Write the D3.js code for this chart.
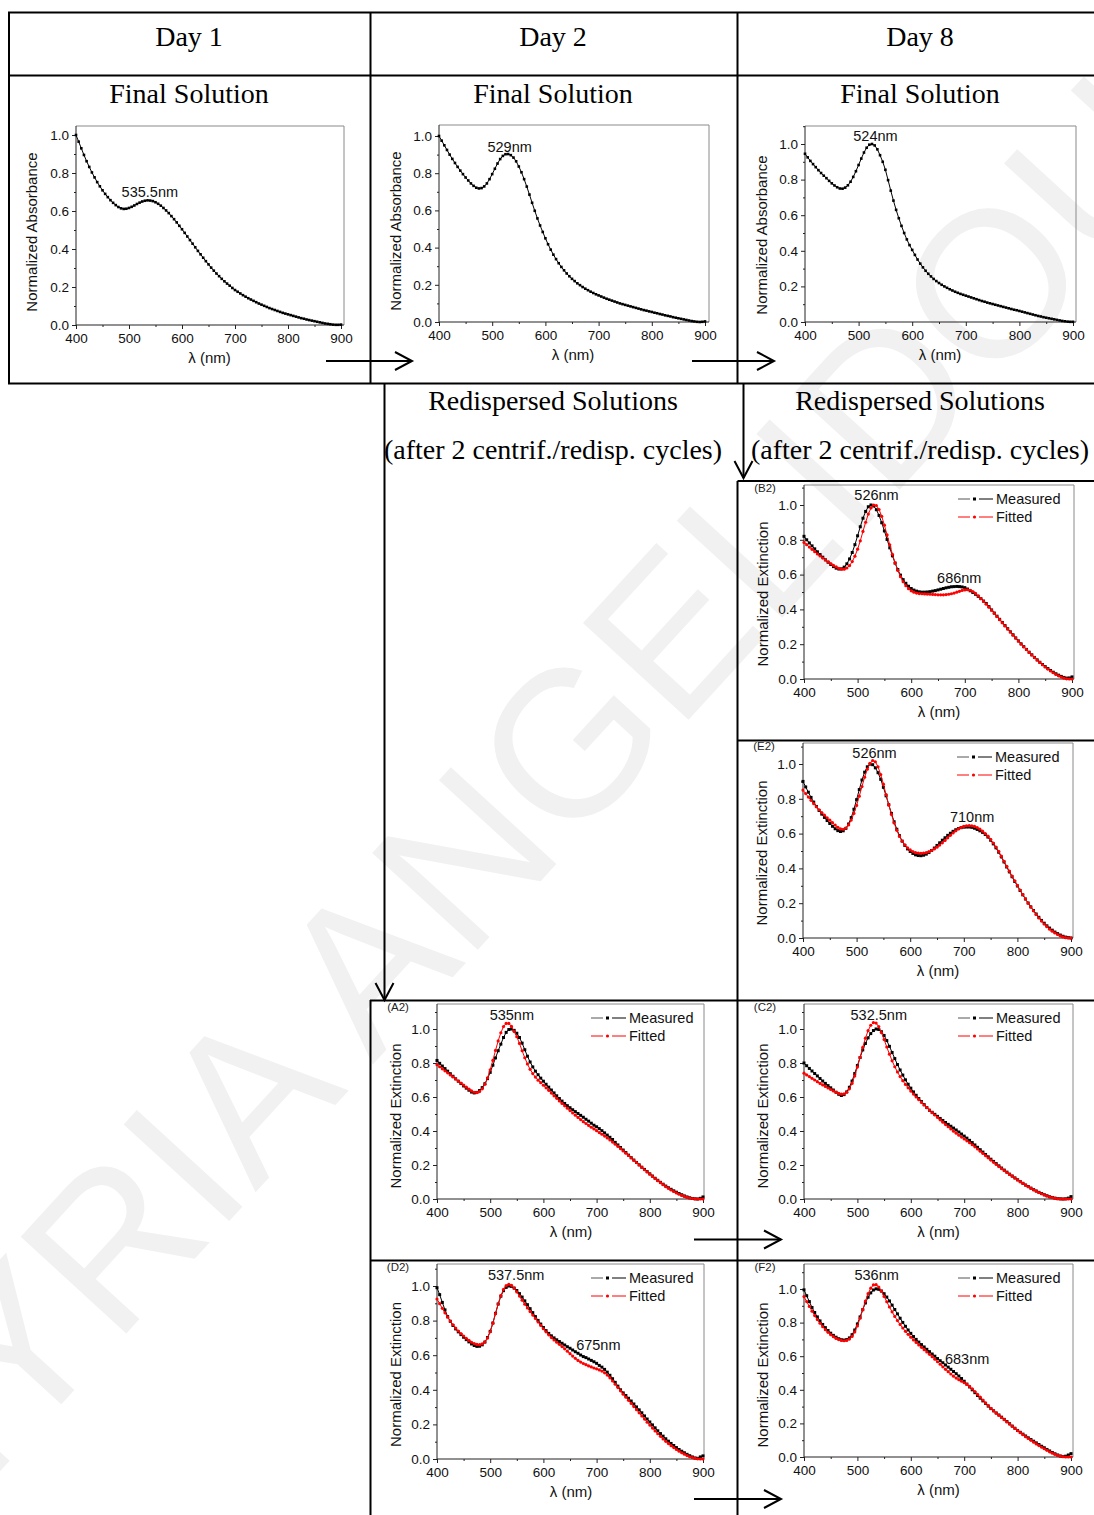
<!DOCTYPE html>
<html>
<head>
<meta charset="utf-8">
<script src="https://cdn.jsdelivr.net/npm/d3@7/dist/d3.min.js"></script>
<style>
  body { margin: 0; background: #fff; }
  svg { display: block; }
</style>
</head>
<body>
<svg id="fig" width="1094" height="1515"></svg>
<script>
// ---------- data: UV-vis spectra, normalised, sampled every 5 nm ----------
const wavelength = [
  400,405,410,415,420,425,430,435,440,445,450,455,460,465,470,475,480,485,490,495,
  500,505,510,515,520,525,530,535,540,545,550,555,560,565,570,575,580,585,590,595,
  600,605,610,615,620,625,630,635,640,645,650,655,660,665,670,675,680,685,690,695,
  700,705,710,715,720,725,730,735,740,745,750,755,760,765,770,775,780,785,790,795,
  800,805,810,815,820,825,830,835,840,845,850,855,860,865,870,875,880,885,890,895,900
];

const xTickValues = [400, 500, 600, 700, 800, 900];
const xMinorValues = [450, 550, 650, 750, 850];
const yTickValues = [0, 0.2, 0.4, 0.6, 0.8, 1.0];
const yMinorValues = [0.1, 0.3, 0.5, 0.7, 0.9, 1.1];

const day1Absorbance = [
  1.000,0.965,0.930,0.895,0.862,0.832,0.803,0.777,0.752,0.730,
  0.709,0.690,0.673,0.657,0.643,0.631,0.621,0.614,0.611,0.612,
  0.616,0.622,0.629,0.637,0.644,0.650,0.654,0.656,0.655,0.652,
  0.646,0.638,0.628,0.616,0.603,0.589,0.573,0.557,0.540,0.522,
  0.504,0.485,0.466,0.447,0.428,0.409,0.390,0.372,0.354,0.336,
  0.319,0.302,0.286,0.271,0.257,0.243,0.230,0.218,0.207,0.195,
  0.184,0.175,0.166,0.157,0.149,0.141,0.134,0.127,0.120,0.113,
  0.107,0.101,0.095,0.089,0.084,0.079,0.074,0.069,0.064,0.060,
  0.056,0.052,0.048,0.044,0.040,0.036,0.033,0.029,0.026,0.023,
  0.020,0.017,0.014,0.011,0.008,0.006,0.004,0.002,0.001,0.001,
  0.002
];

const day2Absorbance = [
  1.000,0.975,0.950,0.925,0.900,0.877,0.855,0.834,0.814,0.795,
  0.777,0.761,0.745,0.732,0.722,0.718,0.720,0.729,0.745,0.768,
  0.795,0.824,0.852,0.876,0.893,0.902,0.903,0.897,0.884,0.864,
  0.836,0.805,0.768,0.728,0.685,0.641,0.598,0.557,0.519,0.484,
  0.450,0.418,0.389,0.362,0.338,0.316,0.296,0.278,0.261,0.246,
  0.232,0.220,0.208,0.198,0.188,0.179,0.171,0.163,0.156,0.149,
  0.143,0.137,0.131,0.125,0.120,0.115,0.110,0.105,0.100,0.096,
  0.092,0.088,0.084,0.080,0.076,0.072,0.068,0.064,0.061,0.057,
  0.054,0.050,0.047,0.043,0.040,0.036,0.033,0.030,0.026,0.023,
  0.020,0.017,0.014,0.011,0.008,0.005,0.003,0.001,0.000,0.001,
  0.003
];

const day8Absorbance = [
  0.945,0.925,0.905,0.887,0.870,0.853,0.837,0.822,0.808,0.793,
  0.779,0.767,0.757,0.750,0.749,0.755,0.768,0.788,0.815,0.847,
  0.882,0.918,0.952,0.979,0.996,1.000,0.992,0.970,0.937,0.900,
  0.855,0.797,0.738,0.682,0.630,0.583,0.540,0.500,0.464,0.432,
  0.405,0.377,0.351,0.328,0.307,0.288,0.271,0.256,0.242,0.230,
  0.219,0.209,0.200,0.192,0.184,0.177,0.170,0.164,0.158,0.153,
  0.148,0.143,0.138,0.133,0.128,0.123,0.118,0.114,0.109,0.105,
  0.101,0.097,0.093,0.089,0.085,0.081,0.077,0.073,0.069,0.066,
  0.062,0.058,0.054,0.050,0.046,0.042,0.038,0.034,0.031,0.027,
  0.024,0.021,0.018,0.015,0.012,0.009,0.006,0.004,0.002,0.001,
  0.001
];

const b2Measured = [
  0.820,0.800,0.782,0.765,0.748,0.731,0.715,0.700,0.685,0.671,
  0.658,0.646,0.637,0.632,0.633,0.643,0.662,0.690,0.727,0.772,
  0.823,0.875,0.924,0.963,0.990,1.000,0.994,0.973,0.940,0.898,
  0.851,0.802,0.754,0.708,0.666,0.629,0.597,0.571,0.550,0.533,
  0.520,0.511,0.505,0.501,0.499,0.499,0.500,0.502,0.505,0.508,
  0.512,0.516,0.520,0.524,0.527,0.530,0.531,0.532,0.531,0.529,
  0.525,0.517,0.507,0.497,0.487,0.475,0.462,0.448,0.434,0.416,
  0.397,0.379,0.361,0.343,0.325,0.307,0.289,0.271,0.254,0.236,
  0.219,0.202,0.186,0.170,0.154,0.139,0.124,0.110,0.096,0.083,
  0.071,0.060,0.049,0.039,0.030,0.022,0.015,0.009,0.005,0.006,
  0.012
];
const b2Fitted = [
  0.785,0.772,0.758,0.745,0.732,0.719,0.707,0.695,0.684,0.673,
  0.663,0.653,0.644,0.636,0.631,0.631,0.638,0.652,0.675,0.706,
  0.746,0.794,0.848,0.901,0.948,0.983,1.000,0.997,0.974,0.935,
  0.884,0.828,0.771,0.717,0.667,0.624,0.588,0.559,0.536,0.519,
  0.507,0.499,0.494,0.491,0.490,0.489,0.488,0.487,0.486,0.485,
  0.484,0.484,0.484,0.485,0.487,0.490,0.494,0.499,0.504,0.509,
  0.512,0.513,0.510,0.503,0.492,0.478,0.462,0.446,0.430,0.413,
  0.395,0.377,0.359,0.341,0.323,0.305,0.287,0.270,0.252,0.235,
  0.218,0.201,0.185,0.169,0.153,0.138,0.123,0.109,0.095,0.082,
  0.069,0.057,0.046,0.036,0.026,0.018,0.011,0.005,0.001,0.000,
  0.000
];

const e2Measured = [
  0.900,0.868,0.838,0.808,0.781,0.756,0.733,0.712,0.693,0.675,
  0.658,0.642,0.628,0.617,0.612,0.616,0.630,0.655,0.692,0.740,
  0.795,0.853,0.908,0.953,0.984,0.999,0.996,0.978,0.950,0.912,
  0.866,0.817,0.766,0.716,0.668,0.625,0.588,0.557,0.532,0.512,
  0.497,0.486,0.478,0.474,0.473,0.476,0.482,0.491,0.503,0.517,
  0.532,0.547,0.562,0.576,0.590,0.602,0.613,0.622,0.629,0.634,
  0.637,0.638,0.638,0.636,0.631,0.624,0.616,0.607,0.595,0.580,
  0.562,0.541,0.518,0.493,0.466,0.437,0.408,0.380,0.352,0.325,
  0.299,0.273,0.248,0.224,0.201,0.179,0.158,0.138,0.119,0.101,
  0.085,0.070,0.057,0.045,0.034,0.025,0.017,0.010,0.005,0.002,
  0.000
];
const e2Fitted = [
  0.850,0.830,0.810,0.791,0.772,0.754,0.737,0.721,0.706,0.691,
  0.677,0.663,0.649,0.636,0.627,0.625,0.632,0.650,0.678,0.716,
  0.762,0.815,0.870,0.924,0.970,1.004,1.020,1.013,0.984,0.939,
  0.884,0.824,0.765,0.710,0.661,0.619,0.584,0.556,0.535,0.518,
  0.506,0.497,0.491,0.488,0.487,0.488,0.491,0.496,0.503,0.512,
  0.522,0.534,0.547,0.561,0.576,0.590,0.604,0.616,0.627,0.635,
  0.641,0.645,0.646,0.645,0.641,0.635,0.626,0.614,0.600,0.585,
  0.567,0.546,0.523,0.498,0.470,0.441,0.412,0.384,0.356,0.329,
  0.302,0.276,0.250,0.225,0.201,0.178,0.156,0.135,0.115,0.097,
  0.080,0.065,0.051,0.039,0.029,0.020,0.012,0.006,0.002,0.000,
  0.000
];

const a2Measured = [
  0.815,0.798,0.782,0.767,0.752,0.737,0.722,0.707,0.693,0.679,
  0.665,0.652,0.640,0.629,0.624,0.627,0.638,0.655,0.678,0.708,
  0.745,0.787,0.830,0.872,0.911,0.950,0.980,0.997,1.000,0.992,
  0.975,0.950,0.917,0.878,0.840,0.806,0.777,0.752,0.731,0.711,
  0.693,0.675,0.658,0.641,0.624,0.607,0.591,0.576,0.562,0.549,
  0.537,0.525,0.514,0.503,0.492,0.481,0.469,0.458,0.446,0.434,
  0.425,0.414,0.402,0.389,0.376,0.363,0.350,0.333,0.318,0.303,
  0.288,0.273,0.258,0.243,0.229,0.215,0.201,0.187,0.174,0.161,
  0.148,0.135,0.122,0.110,0.098,0.087,0.076,0.066,0.057,0.048,
  0.040,0.032,0.025,0.018,0.012,0.007,0.003,0.001,0.000,0.004,
  0.012
];
const a2Fitted = [
  0.790,0.778,0.766,0.754,0.742,0.730,0.718,0.706,0.694,0.682,
  0.670,0.658,0.646,0.636,0.628,0.626,0.632,0.648,0.675,0.713,
  0.760,0.815,0.874,0.930,0.978,1.014,1.033,1.033,1.015,0.985,
  0.955,0.915,0.872,0.831,0.794,0.763,0.738,0.717,0.699,0.684,
  0.669,0.654,0.639,0.623,0.607,0.592,0.577,0.562,0.548,0.534,
  0.520,0.506,0.493,0.480,0.467,0.455,0.444,0.433,0.422,0.412,
  0.402,0.391,0.381,0.370,0.359,0.347,0.335,0.322,0.309,0.296,
  0.283,0.269,0.256,0.242,0.228,0.214,0.200,0.186,0.172,0.159,
  0.146,0.133,0.120,0.108,0.096,0.084,0.073,0.063,0.053,0.044,
  0.036,0.028,0.021,0.015,0.010,0.006,0.003,0.001,0.000,0.000,
  0.000
];

const c2Measured = [
  0.800,0.784,0.768,0.753,0.738,0.724,0.709,0.694,0.680,0.667,
  0.654,0.641,0.628,0.616,0.609,0.614,0.630,0.657,0.694,0.738,
  0.785,0.832,0.877,0.915,0.948,0.973,0.991,1.000,0.997,0.984,
  0.962,0.932,0.898,0.862,0.826,0.791,0.759,0.729,0.701,0.675,
  0.652,0.630,0.610,0.591,0.573,0.555,0.538,0.522,0.510,0.498,
  0.486,0.474,0.462,0.450,0.439,0.428,0.417,0.406,0.394,0.382,
  0.370,0.358,0.345,0.332,0.318,0.304,0.290,0.276,0.262,0.248,
  0.234,0.221,0.208,0.195,0.182,0.170,0.158,0.146,0.135,0.124,
  0.113,0.102,0.092,0.082,0.073,0.064,0.055,0.047,0.039,0.032,
  0.025,0.019,0.013,0.009,0.005,0.002,0.001,0.000,0.001,0.005,
  0.014
];
const c2Fitted = [
  0.740,0.730,0.720,0.710,0.700,0.690,0.680,0.671,0.662,0.653,
  0.644,0.636,0.628,0.621,0.617,0.618,0.628,0.648,0.680,0.724,
  0.776,0.833,0.892,0.946,0.990,1.022,1.038,1.035,1.014,0.979,
  0.938,0.894,0.852,0.813,0.778,0.747,0.720,0.696,0.674,0.654,
  0.635,0.617,0.600,0.584,0.568,0.553,0.538,0.523,0.508,0.494,
  0.480,0.466,0.452,0.438,0.425,0.412,0.399,0.387,0.375,0.364,
  0.353,0.342,0.331,0.319,0.307,0.294,0.281,0.268,0.255,0.242,
  0.229,0.216,0.203,0.191,0.179,0.167,0.156,0.145,0.134,0.123,
  0.112,0.102,0.092,0.082,0.072,0.063,0.054,0.046,0.038,0.031,
  0.024,0.018,0.013,0.008,0.004,0.002,0.000,0.000,0.000,0.000,
  0.000
];

const d2Measured = [
  0.990,0.950,0.905,0.862,0.823,0.796,0.772,0.752,0.735,0.719,
  0.704,0.690,0.677,0.665,0.656,0.651,0.652,0.660,0.676,0.702,
  0.738,0.786,0.842,0.896,0.941,0.973,0.992,1.000,0.998,0.988,
  0.974,0.956,0.936,0.914,0.892,0.869,0.846,0.823,0.801,0.780,
  0.760,0.742,0.726,0.712,0.700,0.689,0.679,0.669,0.659,0.649,
  0.640,0.630,0.620,0.611,0.601,0.592,0.586,0.578,0.570,0.562,
  0.553,0.541,0.531,0.518,0.502,0.484,0.464,0.443,0.421,0.400,
  0.382,0.367,0.351,0.335,0.318,0.301,0.284,0.267,0.249,0.231,
  0.214,0.197,0.180,0.163,0.147,0.132,0.117,0.103,0.090,0.078,
  0.066,0.055,0.045,0.036,0.027,0.019,0.012,0.006,0.004,0.012,
  0.018
];
const d2Fitted = [
  0.925,0.898,0.871,0.845,0.820,0.797,0.776,0.757,0.740,0.725,
  0.711,0.698,0.686,0.675,0.667,0.662,0.661,0.665,0.676,0.699,
  0.735,0.784,0.840,0.896,0.944,0.980,1.002,1.010,1.004,0.988,
  0.966,0.942,0.918,0.895,0.873,0.852,0.832,0.812,0.792,0.772,
  0.753,0.735,0.718,0.702,0.688,0.675,0.663,0.650,0.637,0.623,
  0.609,0.595,0.582,0.570,0.560,0.552,0.545,0.538,0.532,0.526,
  0.521,0.515,0.508,0.498,0.485,0.469,0.451,0.432,0.413,0.394,
  0.375,0.357,0.339,0.321,0.303,0.285,0.267,0.249,0.231,0.213,
  0.196,0.179,0.162,0.146,0.131,0.116,0.102,0.089,0.077,0.066,
  0.055,0.045,0.036,0.028,0.020,0.013,0.008,0.004,0.001,0.000,
  0.000
];

const f2Measured = [
  0.995,0.960,0.925,0.890,0.860,0.834,0.810,0.789,0.770,0.753,
  0.737,0.724,0.713,0.704,0.698,0.696,0.699,0.709,0.728,0.756,
  0.792,0.834,0.877,0.917,0.951,0.977,0.994,1.001,0.998,0.988,
  0.972,0.952,0.929,0.904,0.878,0.852,0.826,0.801,0.778,0.756,
  0.736,0.717,0.700,0.684,0.669,0.655,0.641,0.627,0.613,0.600,
  0.586,0.573,0.561,0.548,0.535,0.522,0.509,0.496,0.482,0.467,
  0.451,0.434,0.417,0.400,0.383,0.366,0.350,0.334,0.319,0.303,
  0.288,0.275,0.262,0.250,0.237,0.224,0.211,0.198,0.184,0.171,
  0.158,0.147,0.136,0.125,0.114,0.104,0.094,0.084,0.074,0.064,
  0.055,0.045,0.036,0.027,0.019,0.012,0.006,0.003,0.005,0.012,
  0.020
];
const f2Fitted = [
  0.955,0.925,0.896,0.868,0.842,0.818,0.796,0.776,0.758,0.742,
  0.728,0.716,0.706,0.699,0.694,0.692,0.694,0.702,0.718,0.744,
  0.780,0.826,0.877,0.928,0.972,1.005,1.024,1.026,1.012,0.987,
  0.956,0.924,0.893,0.864,0.837,0.812,0.789,0.768,0.748,0.730,
  0.713,0.697,0.682,0.667,0.653,0.639,0.625,0.611,0.597,0.582,
  0.567,0.552,0.537,0.522,0.508,0.494,0.481,0.470,0.460,0.451,
  0.442,0.432,0.420,0.406,0.390,0.373,0.356,0.339,0.322,0.306,
  0.290,0.275,0.261,0.248,0.235,0.222,0.209,0.196,0.183,0.170,
  0.157,0.145,0.133,0.121,0.110,0.099,0.088,0.078,0.068,0.058,
  0.049,0.040,0.031,0.023,0.016,0.010,0.005,0.002,0.000,0.000,
  0.000
];

// Plasmon peak positions (nm) annotated on each panel
const peaksDay1 = [535.5];
const peaksDay2 = [529];
const peaksDay8 = [524];
const peaksB2 = [526, 686];
const peaksE2 = [526, 710];
const peaksA2 = [535];
const peaksC2 = [532.5];
const peaksD2 = [537.5, 675];
const peaksF2 = [536, 683];

const legendLabels = ["Measured", "Fitted"];

// ---------- styles ----------
const SANS = "'Liberation Sans', Arial, sans-serif";
const SERIF = "'Liberation Serif', 'Times New Roman', serif";
const RED = "#ff0000";

const svg = d3.select("#fig");

// faint diagonal watermark behind everything
svg.append("text")
  .attr("transform", "translate(-96,1576) rotate(-47.5)")
  .attr("font-family", SANS)
  .attr("font-size", 208)
  .attr("fill", "#f1f1f1")
  .text("MYRIA ANGELIDOU");

// ---------- panel layout (pixel frame of each plot) ----------
const panels = [
  { tag: null, yTitle: "Normalized Absorbance", x0: 76, x1: 341, xr: 344, y0: 325, y1: 135, top: 126,
    series: [{ values: day1Absorbance, kind: "abs" }], peaks: peaksDay1,
    peakPos: [{ dx: 2, v: 0.70 }], titleDx: 44 },
  { tag: null, yTitle: "Normalized Absorbance", x0: 439, x1: 705, xr: 709, y0: 322, y1: 136, top: 125,
    series: [{ values: day2Absorbance, kind: "abs" }], peaks: peaksDay2,
    peakPos: [{ dx: 2, v: 0.94 }], titleDx: 43 },
  { tag: null, yTitle: "Normalized Absorbance", x0: 805, x1: 1073, xr: 1076, y0: 322, y1: 144, top: 126,
    series: [{ values: day8Absorbance, kind: "abs" }], peaks: peaksDay8,
    peakPos: [{ dx: 4, v: 1.045 }], titleDx: 43 },
  { tag: "(B2)", yTitle: "Normalized Extinction", x0: 804, x1: 1072, xr: 1074, y0: 679, y1: 505, top: 485,
    series: [{ values: b2Measured, kind: "measured" }, { values: b2Fitted, kind: "fitted" }],
    peaks: peaksB2, peakPos: [{ dx: 5, v: 1.057 }, { dx: 2, v: 0.58 }], titleDx: 41, legend: true },
  { tag: "(E2)", yTitle: "Normalized Extinction", x0: 803, x1: 1071, xr: 1073, y0: 938, y1: 764, top: 743,
    series: [{ values: e2Measured, kind: "measured" }, { values: e2Fitted, kind: "fitted" }],
    peaks: peaksE2, peakPos: [{ dx: 4, v: 1.063 }, { dx: 3, v: 0.695 }], titleDx: 41, legend: true },
  { tag: "(A2)", yTitle: "Normalized Extinction", x0: 437, x1: 703, xr: 704, y0: 1199, y1: 1029, top: 1004,
    series: [{ values: a2Measured, kind: "measured" }, { values: a2Fitted, kind: "fitted" }],
    peaks: peaksA2, peakPos: [{ dx: 3, v: 1.082 }], titleDx: 41, legend: true },
  { tag: "(C2)", yTitle: "Normalized Extinction", x0: 804, x1: 1071, xr: 1073, y0: 1199, y1: 1029, top: 1004,
    series: [{ values: c2Measured, kind: "measured" }, { values: c2Fitted, kind: "fitted" }],
    peaks: peaksC2, peakPos: [{ dx: 4, v: 1.082 }], titleDx: 41, legend: true },
  { tag: "(D2)", yTitle: "Normalized Extinction", x0: 437, x1: 703, xr: 704, y0: 1459, y1: 1286, top: 1264,
    series: [{ values: d2Measured, kind: "measured" }, { values: d2Fitted, kind: "fitted" }],
    peaks: peaksD2, peakPos: [{ dx: 6, v: 1.064 }, { dx: 15, v: 0.659 }], titleDx: 41, legend: true },
  { tag: "(F2)", yTitle: "Normalized Extinction", x0: 804, x1: 1071, xr: 1073, y0: 1457, y1: 1289, top: 1264,
    series: [{ values: f2Measured, kind: "measured" }, { values: f2Fitted, kind: "fitted" }],
    peaks: peaksF2, peakPos: [{ dx: 0, v: 1.083 }, { dx: 12, v: 0.583 }], titleDx: 41, legend: true }
];

function drawPanel(p) {
  const g = svg.append("g");
  const x = d3.scaleLinear().domain([400, 900]).range([p.x0, p.x1]);
  const y = d3.scaleLinear().domain([0, 1]).range([p.y0, p.y1]);
  const yTop = y.invert(p.top);

  // frame: top and right edges (lighter), axes drawn below
  g.append("path")
    .attr("d", `M${p.x0},${p.top}H${p.xr}V${p.y0}`)
    .attr("fill", "none").attr("stroke", "#8a8a8a").attr("stroke-width", 1);

  // x axis
  const xa = g.append("g").attr("transform", `translate(0,${p.y0})`)
    .call(d3.axisBottom(x).tickValues(xTickValues).tickSize(4).tickPadding(4).tickFormat(d3.format("d")));
  g.append("g").attr("transform", `translate(0,${p.y0})`)
    .call(d3.axisBottom(x).tickValues(xMinorValues).tickSize(2).tickFormat(""))
    .call(s => s.select(".domain").remove());
  xa.select(".domain").remove();
  g.append("line").attr("x1", p.x0).attr("x2", p.xr).attr("y1", p.y0).attr("y2", p.y0)
    .attr("stroke", "#222").attr("stroke-width", 1);

  // y axis
  const ya = g.append("g").attr("transform", `translate(${p.x0},0)`)
    .call(d3.axisLeft(y).tickValues(yTickValues).tickSize(4).tickPadding(3).tickFormat(d3.format(".1f")));
  g.append("g").attr("transform", `translate(${p.x0},0)`)
    .call(d3.axisLeft(y).tickValues(yMinorValues.filter(v => v < yTop)).tickSize(2).tickFormat(""))
    .call(s => s.select(".domain").remove());
  ya.select(".domain").remove();
  g.append("line").attr("x1", p.x0).attr("x2", p.x0).attr("y1", p.top).attr("y2", p.y0)
    .attr("stroke", "#222").attr("stroke-width", 1);

  g.selectAll(".tick line").attr("stroke", "#222");
  g.selectAll(".tick text").attr("font-family", SANS).attr("font-size", 13.5).attr("fill", "#111");

  // axis titles
  g.append("text")
    .attr("x", x(650) + 1).attr("y", p.y0 + 38)
    .attr("text-anchor", "middle").attr("font-family", SANS).attr("font-size", 15).attr("fill", "#111")
    .text("λ (nm)");
  g.append("text")
    .attr("transform", `translate(${p.x0 - p.titleDx},${y(0.5) + 2}) rotate(-90)`)
    .attr("text-anchor", "middle").attr("dy", "0.35em")
    .attr("font-family", SANS).attr("font-size", 15).attr("fill", "#111")
    .text(p.yTitle);

  // spectra: line plus a symbol at every sample
  const line = d3.line().x((d, i) => x(wavelength[i])).y(d => y(d));
  p.series.forEach(s => {
    const color = s.kind === "fitted" ? RED : "#000";
    g.append("path").datum(s.values)
      .attr("d", line).attr("fill", "none").attr("stroke", color).attr("stroke-width", 1);
    if (s.kind === "fitted") {
      g.append("g").selectAll("circle").data(s.values).join("circle")
        .attr("cx", (d, i) => x(wavelength[i])).attr("cy", d => y(d)).attr("r", 1.6)
        .attr("fill", color);
    } else {
      const sz = s.kind === "abs" ? 2.6 : 3;
      g.append("g").selectAll("rect").data(s.values).join("rect")
        .attr("x", (d, i) => x(wavelength[i]) - sz / 2).attr("y", d => y(d) - sz / 2)
        .attr("width", sz).attr("height", sz).attr("fill", color);
    }
  });

  // peak annotations
  p.peaks.forEach((pk, i) => {
    const pos = p.peakPos[i];
    g.append("text")
      .attr("x", x(pk) + pos.dx).attr("y", y(pos.v)).attr("dy", "0.35em")
      .attr("text-anchor", "middle").attr("font-family", SANS).attr("font-size", 14.5).attr("fill", "#111")
      .text(`${pk}nm`);
  });

  // panel tag
  if (p.tag) {
    g.append("text").attr("x", p.x0 - 39).attr("y", p.top + 7)
      .attr("text-anchor", "middle").attr("font-family", SANS).attr("font-size", 11.5).attr("fill", "#222")
      .text(p.tag);
  }

  // legend
  if (p.legend) {
    const tx = p.x0 + 192;
    legendLabels.forEach((lab, i) => {
      const ly = p.top + 14 + i * 18;
      const color = i === 1 ? RED : "#000";
      g.append("line").attr("x1", tx - 38).attr("x2", tx - 26).attr("y1", ly).attr("y2", ly)
        .attr("stroke", i === 1 ? RED : "#555").attr("stroke-width", 1);
      g.append("line").attr("x1", tx - 17).attr("x2", tx - 3).attr("y1", ly).attr("y2", ly)
        .attr("stroke", color).attr("stroke-width", 1);
      if (i === 1) {
        g.append("circle").attr("cx", tx - 21.5).attr("cy", ly).attr("r", 1.6).attr("fill", color);
      } else {
        g.append("rect").attr("x", tx - 23).attr("y", ly - 1.5).attr("width", 3).attr("height", 3).attr("fill", color);
      }
      g.append("text").attr("x", tx).attr("y", ly).attr("dy", "0.35em")
        .attr("font-family", SANS).attr("font-size", 14.5).attr("fill", "#111").text(lab);
    });
  }
}

panels.forEach(drawPanel);

// ---------- headings ----------
const headings = [
  { text: "Day 1", x: 189, y: 46 },
  { text: "Day 2", x: 553, y: 46 },
  { text: "Day 8", x: 920, y: 46 },
  { text: "Final Solution", x: 189, y: 103 },
  { text: "Final Solution", x: 553, y: 103 },
  { text: "Final Solution", x: 920, y: 103 },
  { text: "Redispersed Solutions", x: 553, y: 410 },
  { text: "Redispersed Solutions", x: 920, y: 410 },
  { text: "(after 2 centrif./redisp. cycles)", x: 553, y: 459 },
  { text: "(after 2 centrif./redisp. cycles)", x: 920, y: 459 }
];
svg.append("g").selectAll("text").data(headings).join("text")
  .attr("x", d => d.x).attr("y", d => d.y)
  .attr("text-anchor", "middle").attr("font-family", SERIF).attr("font-size", 28).attr("fill", "#000")
  .text(d => d.text);

// ---------- table rules ----------
const rules = [
  [8, 12.5, 1094, 12.5], [8, 75.5, 1094, 75.5], [8, 383.5, 1094, 383.5],
  [9, 12, 9, 384], [370.5, 12, 370.5, 384], [737.5, 12, 737.5, 384],
  [737.5, 481, 1094, 481], [737.5, 481, 737.5, 1515], [737.5, 740.5, 1094, 740.5],
  [370, 1000.5, 1094, 1000.5], [370.5, 1000, 370.5, 1515], [370, 1260.5, 1094, 1260.5]
];
svg.append("g").selectAll("line").data(rules).join("line")
  .attr("x1", d => d[0]).attr("y1", d => d[1]).attr("x2", d => d[2]).attr("y2", d => d[3])
  .attr("stroke", "#000").attr("stroke-width", 2);

// ---------- flow arrows ----------
const arrows = [
  { x1: 326, y1: 361, x2: 412, y2: 361 },
  { x1: 692, y1: 361, x2: 774, y2: 361 },
  { x1: 384.5, y1: 383, x2: 384.5, y2: 1000 },
  { x1: 743.5, y1: 383, x2: 743.5, y2: 478 },
  { x1: 694, y1: 1239.5, x2: 781, y2: 1239.5 },
  { x1: 694, y1: 1499, x2: 781, y2: 1499 }
];
const ag = svg.append("g").attr("stroke", "#000").attr("stroke-width", 2).attr("fill", "none");
arrows.forEach(a => {
  ag.append("line").attr("x1", a.x1).attr("y1", a.y1).attr("x2", a.x2).attr("y2", a.y2);
  const ang = Math.atan2(a.y2 - a.y1, a.x2 - a.x1);
  const L = 17, W = 9;
  const bx = a.x2 - L * Math.cos(ang), by = a.y2 - L * Math.sin(ang);
  const nx = -Math.sin(ang) * W, ny = Math.cos(ang) * W;
  ag.append("path").attr("d", `M${bx + nx},${by + ny}L${a.x2},${a.y2}L${bx - nx},${by - ny}`);
});
</script>
</body>
</html>
